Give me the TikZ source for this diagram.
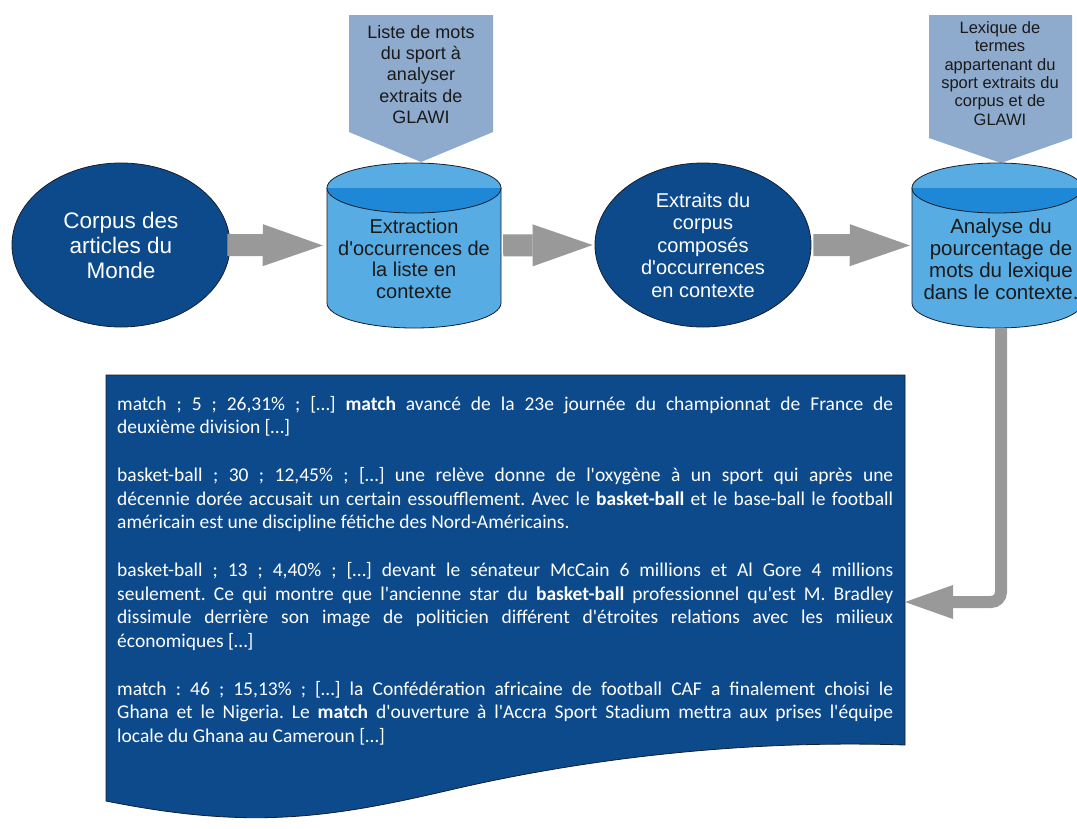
\documentclass[tikz,border=0pt]{standalone}
\usepackage{fontspec}
\setmainfont{Liberation Sans}[Ligatures=TeXOff]
\newfontfamily\boxfont{Carlito}[Ligatures=TeXOff]
\usetikzlibrary{shapes.geometric,arrows.meta}
\definecolor{navy}{RGB}{13,74,140}
\definecolor{cylbody}{RGB}{88,172,228}
\definecolor{cylcap}{RGB}{30,136,214}
\definecolor{pentfill}{RGB}{142,170,204}
\definecolor{arrowgray}{RGB}{153,153,153}
\definecolor{darktext}{RGB}{26,26,26}
\definecolor{edgecol}{RGB}{20,30,45}
\begin{document}
\begin{tikzpicture}[x=1pt,y=-1pt,
  oval/.style={ellipse, draw=edgecol, line width=0.8pt, fill=navy, text=white, inner sep=0pt, align=center},
  anchorbox/.style={draw=none, inner sep=0pt},
  shapetext/.style={text=darktext, inner sep=0pt, align=center},
  pent/.style={fill=pentfill},
  cylbodystyle/.style={fill=cylbody, draw=edgecol, line width=0.8pt},
  blockarrow/.style={draw=arrowgray, line width=22pt, -{Triangle[length=60pt,width=42pt,line width=0pt]}},
  bentarrow/.style={draw=arrowgray, line width=12pt, rounded corners=10pt, -{Triangle[length=48pt,width=34pt,line width=0pt]}},
  docshape/.style={fill=navy, draw=edgecol, line width=0.8pt}
]
\useasboundingbox (0,0) rectangle (1077,828);
\fill[white] (0,0) rectangle (1077,828);

% pentagons (inputs)
\fill[pent] (349,15) -- (493,15) -- (493,132) -- (421,162) -- (349,132) -- cycle;
\node[shapetext, font=\fontsize{18pt}{21.3pt}\selectfont] (p1) at (421,74.5)
  {Liste de mots\\du sport à\\analyser\\extraits de\\GLAWI};
\fill[pent] (929,15) -- (1072,15) -- (1072,138) -- (1001,163) -- (929,138) -- cycle;
\node[shapetext, font=\fontsize{16.5pt}{18.3pt}\selectfont] (p2) at (1000,73.5)
  {Lexique de\\termes\\appartenant du\\sport extraits du\\corpus et de\\GLAWI};

% cylinder 1
\node[anchorbox, minimum width=174pt, minimum height=165pt] (c1) at (414,245.5) {};
\path[cylbodystyle] (327,188) -- (327,303) arc[start angle=180, end angle=0, x radius=87, y radius=25] -- (501,188) -- cycle;
\fill[cylbody] (414,188) ellipse[x radius=87, y radius=25];
\fill[cylcap] (327,188) arc[start angle=180, end angle=0, x radius=87, y radius=25] -- cycle;
\draw[edgecol, line width=0.8pt] (414,188) ellipse[x radius=87, y radius=25];
\node[shapetext, font=\fontsize{20pt}{21.5pt}\selectfont] (t1) at (414,259)
  {Extraction\\d'occurrences de\\la liste en\\contexte};

% cylinder 2
\node[anchorbox, minimum width=170pt, minimum height=165pt] (c2) at (997,245.5) {};
\path[cylbodystyle] (912,188) -- (912,303) arc[start angle=180, end angle=0, x radius=85, y radius=25] -- (1082,188) -- cycle;
\fill[cylbody] (997,188) ellipse[x radius=85, y radius=25];
\fill[cylcap] (912,188) arc[start angle=180, end angle=0, x radius=85, y radius=25] -- cycle;
\draw[edgecol, line width=0.8pt] (997,188) ellipse[x radius=85, y radius=25];
\node[shapetext, font=\fontsize{20.5pt}{22pt}\selectfont] (t2) at (1001,259)
  {Analyse du\\pourcentage de\\mots du lexique\\dans le contexte.};

% ellipses
\node[oval, minimum width=218pt, minimum height=164pt, font=\fontsize{22.5pt}{25pt}\selectfont] (e1) at (121,245)
  {Corpus des\\articles du\\Monde};
\node[oval, minimum width=216pt, minimum height=164pt, font=\fontsize{20pt}{22.5pt}\selectfont] (e2) at (703,245)
  {Extraits du\\corpus\\composés\\d'occurrences\\en contexte};

% document box
\path[docshape] (106,375) -- (905,375) -- (905,745)
  .. controls (760,740) and (600,755) .. (450,790)
  .. controls (330,818) and (250,830) .. (106,801) -- cycle;
\coordinate (boxin) at (905,602);
\node[anchor=north west, inner sep=0pt, text width=776pt, align=justify, text=white,
      font=\boxfont\fontsize{19.5pt}{23.5pt}\selectfont] (txt) at (117,396)
{\setlength\parindent{0pt}\setlength\parskip{24.5pt}\frenchspacing
match ; 5 ; 26,31\% ; […] \textbf{match} avancé de la 23e journée du championnat de France de\linebreak
deuxième division […]\par
basket-ball ; 30 ; 12,45\% ; […] une relève donne de l'oxygène à un sport qui après une\linebreak
décennie dorée accusait un certain essoufflement. Avec le \textbf{basket-ball} et le base-ball le football\linebreak
américain est une discipline fétiche des Nord-Américains.\par
basket-ball ; 13 ; 4,40\% ; […] devant le sénateur McCain 6 millions et Al Gore 4 millions\linebreak
seulement. Ce qui montre que l'ancienne star du \textbf{basket-ball} professionnel qu'est M. Bradley\linebreak
dissimule derrière son image de politicien différent d'étroites relations avec les milieux\linebreak
économiques […]\par
match : 46 ; 15,13\% ; […] la Confédération africaine de football CAF a finalement choisi le\linebreak
Ghana et le Nigeria. Le \textbf{match} d'ouverture à l'Accra Sport Stadium mettra aux prises l'équipe\linebreak
locale du Ghana au Cameroun […]\par};

% connectors
\draw[blockarrow, shorten <=-3pt, shorten >=4pt] (e1.east) -- (c1.west);
\draw[blockarrow, shorten <=2pt, shorten >=2pt] (c1.east) -- (e2.west);
\draw[blockarrow, shorten <=2pt, shorten >=2pt] (e2.east) -- (c2.west);
\draw[bentarrow] (t2 |- c2.south) |- (boxin);
\end{tikzpicture}
\end{document}
